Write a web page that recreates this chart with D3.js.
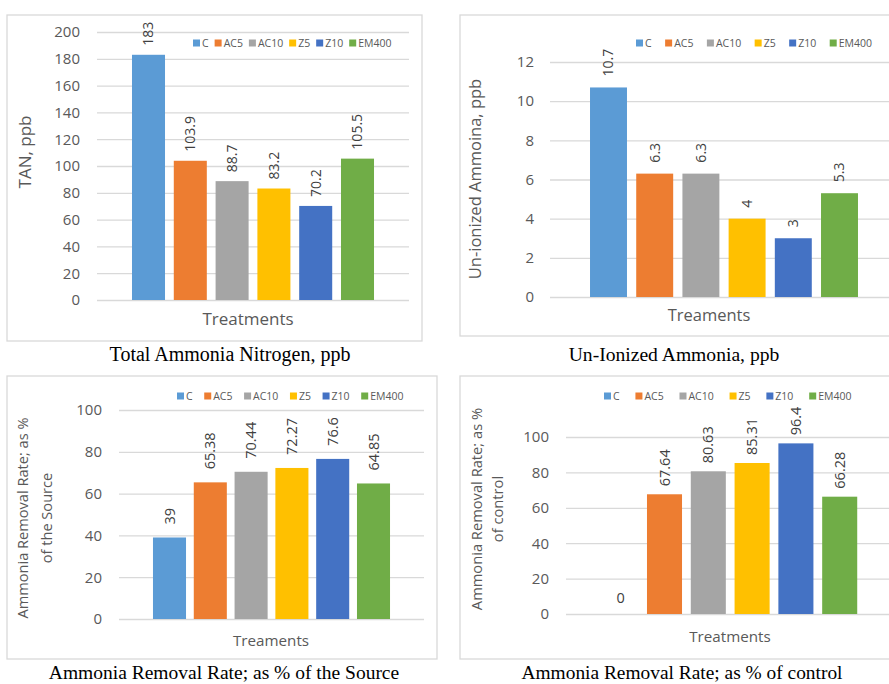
<!DOCTYPE html>
<html>
<head>
<meta charset="utf-8">
<script src="https://cdn.jsdelivr.net/npm/d3@7"></script>
<style>
  html, body { margin: 0; padding: 0; background: #fff; }
  svg { display: block; }
</style>
</head>
<body>
<svg id="chart" width="889" height="684"></svg>
<script>
// Treatments and their series colours
const treatments = ["C", "AC5", "AC10", "Z5", "Z10", "EM400"];
const seriesColors = ["#5B9BD5", "#ED7D31", "#A5A5A5", "#FFC000", "#4472C4", "#70AD47"];

// Measured values per treatment
const tanValues = [183, 103.9, 88.7, 83.2, 70.2, 105.5];
const unionizedValues = [10.7, 6.3, 6.3, 4, 3, 5.3];
const removalSourceValues = [39, 65.38, 70.44, 72.27, 76.6, 64.85];
const removalControlValues = [0, 67.64, 80.63, 85.31, 96.4, 66.28];

// Y-axis tick labels
const tanTicks = [0, 20, 40, 60, 80, 100, 120, 140, 160, 180, 200];
const unionizedTicks = [0, 2, 4, 6, 8, 10, 12];
const removalSourceTicks = [0, 20, 40, 60, 80, 100];
const removalControlTicks = [0, 20, 40, 60, 80, 100];

// Titles
const yTitles = [
  ["TAN, ppb"],
  ["Un-ionized Ammoina, ppb"],
  ["Ammonia Removal Rate; as %", "of the Source"],
  ["Ammonia Removal Rate; as %", "of control"]
];
const xTitles = ["Treatments", "Treaments", "Treaments", "Treatments"];
const captions = [
  "Total Ammonia Nitrogen, ppb",
  "Un-Ionized Ammonia, ppb",
  "Ammonia Removal Rate; as % of the Source",
  "Ammonia Removal Rate; as % of control"
];

const SANS = "'Open Sans', 'Noto Sans', sans-serif";
const SERIF = "'Liberation Serif', 'Times New Roman', serif";
const GRID = "#d9d9d9";

const svg = d3.select("#chart");
svg.append("rect").attr("width", 889).attr("height", 684).attr("fill", "#fff");

// Layout of each of the four chart boxes
const panels = [
  {
    values: tanValues, ticks: tanTicks, max: 200,
    frame: [7, 15, 415, 326],
    plotX: [97, 409], plotY: [300, 32],
    bars: [127.6, 378.4], padInner: 0.21,
    tickPad: 17, tickSize: 15,
    yTitle: [25, 152], yTitleSize: 17, yLineGap: 24,
    xTitle: [248, 325], xTitleSize: 17,
    legend: [193, 43], legendGap: 6,
    labelGap: 9, labelSize: 14,
    caption: [230, 361], captionSize: 20
  },
  {
    values: unionizedValues, ticks: unionizedTicks, max: 12,
    frame: [460, 15, 460, 321],
    plotX: [550, 900], plotY: [297, 62],
    bars: [585.4, 862.6], padInner: 0.2,
    tickPad: 16, tickSize: 15,
    yTitle: [475, 179], yTitleSize: 16.5, yLineGap: 24,
    xTitle: [709, 321], xTitleSize: 16.5,
    legend: [636, 43], legendGap: 13.5,
    labelGap: 11, labelSize: 14,
    caption: [674, 361], captionSize: 19.6
  },
  {
    values: removalSourceValues, ticks: removalSourceTicks, max: 100,
    frame: [7, 376, 430, 283],
    plotX: [119, 424], plotY: [619, 410],
    bars: [149.1, 393.9], padInner: 0.19,
    tickPad: 17, tickSize: 15,
    yTitle: [23, 518], yTitleSize: 14.6, yLineGap: 24,
    xTitle: [271, 646], xTitleSize: 15.2,
    legend: [177, 396], legendGap: 11.6,
    labelGap: 13, labelSize: 14.5,
    caption: [224, 679], captionSize: 19.5
  },
  {
    values: removalControlValues, ticks: removalControlTicks, max: 100,
    frame: [460, 376, 460, 283],
    plotX: [566, 900], plotY: [614, 437],
    bars: [598.8, 861.6], padInner: 0.2,
    tickPad: 17, tickSize: 15,
    yTitle: [477, 509], yTitleSize: 14.7, yLineGap: 21,
    xTitle: [730, 642], xTitleSize: 15.2,
    legend: [604, 396], legendGap: 15.8,
    labelGap: 8, labelSize: 14.5,
    caption: [682, 679], captionSize: 19.4
  }
];

panels.forEach((p, i) => {
  const g = svg.append("g");

  // chart box
  g.append("rect")
    .attr("x", p.frame[0]).attr("y", p.frame[1])
    .attr("width", p.frame[2]).attr("height", p.frame[3])
    .attr("fill", "#fff").attr("stroke", GRID).attr("stroke-width", 1.3);

  const y = d3.scaleLinear().domain([0, p.max]).range(p.plotY);
  const x = d3.scaleBand().domain(treatments).range(p.bars)
    .paddingInner(p.padInner).paddingOuter(p.padInner / 2);
  const color = d3.scaleOrdinal().domain(treatments).range(seriesColors);

  // value axis with gridlines
  const axis = d3.axisLeft(y)
    .tickValues(p.ticks)
    .tickSize(-(p.plotX[1] - p.plotX[0]))
    .tickPadding(p.tickPad)
    .tickFormat(d3.format("d"));
  const ag = g.append("g")
    .attr("transform", `translate(${p.plotX[0]},0)`)
    .call(axis);
  ag.select(".domain").remove();
  ag.selectAll(".tick line").attr("stroke", GRID).attr("stroke-width", 1.3);
  ag.selectAll(".tick text")
    .attr("fill", "#595959")
    .style("font-family", SANS)
    .style("font-size", p.tickSize + "px");

  const rows = treatments.map((t, k) => ({ t, v: p.values[k] }));

  // bars
  g.selectAll("rect.bar").data(rows).enter().append("rect")
    .attr("class", "bar")
    .attr("x", d => x(d.t))
    .attr("width", x.bandwidth())
    .attr("y", d => y(d.v))
    .attr("height", d => y(0) - y(d.v))
    .attr("fill", d => color(d.t));

  // data labels, rotated above each bar; an empty bar keeps its label upright
  g.selectAll("text.lbl").data(rows).enter().append("text")
    .attr("class", "lbl")
    .attr("transform", d => d.v > 0
      ? `translate(${x(d.t) + x.bandwidth() / 2},${y(d.v) - p.labelGap}) rotate(-90)`
      : `translate(${x(d.t) + x.bandwidth() / 2},${y(d.v) - 11})`)
    .attr("text-anchor", d => d.v > 0 ? "start" : "middle")
    .attr("dy", d => d.v > 0 ? "0.35em" : 0)
    .attr("fill", "#404040")
    .style("font-family", SANS)
    .style("font-size", p.labelSize + "px")
    .text(d => String(d.v));

  // y-axis title
  const yt = g.append("text")
    .attr("transform", `translate(${p.yTitle[0]},${p.yTitle[1]}) rotate(-90)`)
    .attr("text-anchor", "middle")
    .attr("fill", "#595959")
    .style("font-family", SANS)
    .style("font-size", p.yTitleSize + "px");
  yTitles[i].forEach((line, k) => {
    yt.append("tspan").attr("x", 0)
      .attr("y", k * p.yLineGap)
      .attr("dy", "0.35em")
      .text(line);
  });

  // x-axis title
  g.append("text")
    .attr("x", p.xTitle[0]).attr("y", p.xTitle[1])
    .attr("text-anchor", "middle")
    .attr("fill", "#595959")
    .style("font-family", SANS)
    .style("font-size", p.xTitleSize + "px")
    .text(xTitles[i]);

  // legend
  let lx = p.legend[0];
  treatments.forEach((t, k) => {
    g.append("rect")
      .attr("x", lx).attr("y", p.legend[1] - 3.5)
      .attr("width", 7).attr("height", 7)
      .attr("fill", color(t));
    const txt = g.append("text")
      .attr("x", lx + 9).attr("y", p.legend[1])
      .attr("dy", "0.35em")
      .attr("fill", "#595959")
      .style("font-family", SANS)
      .style("font-size", "10.5px")
      .text(t);
    lx += 9 + txt.node().getComputedTextLength() + p.legendGap;
  });

  // caption below the box
  svg.append("text")
    .attr("x", p.caption[0]).attr("y", p.caption[1])
    .attr("text-anchor", "middle")
    .attr("fill", "#000")
    .style("font-family", SERIF)
    .style("font-size", p.captionSize + "px")
    .text(captions[i]);
});
</script>
</body>
</html>
